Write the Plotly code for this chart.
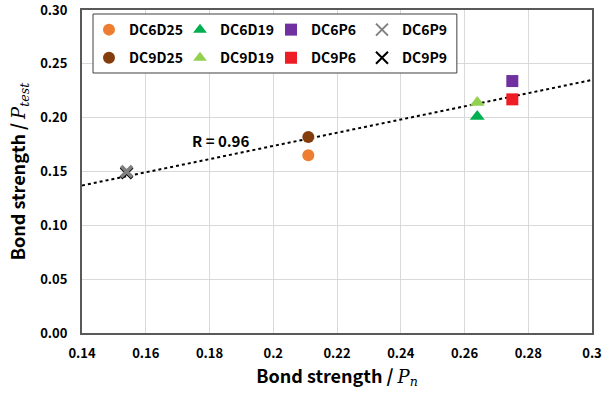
import plotly.graph_objects as go

names = ["DC6D25", "DC6D19", "DC6P6", "DC6P9", "DC9D25", "DC9D19", "DC9P6", "DC9P9"]
x_vals = [0.211, 0.264, 0.275, 0.154, 0.211, 0.264, 0.275, 0.154]
y_vals = [0.165, 0.201, 0.234, 0.150, 0.182, 0.214, 0.217, 0.149]
symbols = ["circle", "triangle-up", "square", "x-thin", "circle", "triangle-up", "square", "x-thin"]
colors = ["#ED7D31", "#00B050", "#7030A0", "#808080", "#843C0C", "#92D050", "#EE1C25", "#000000"]
sizes = [12, 13, 12, 11, 12, 13, 12, 11]
legend_row = ["legend", "legend", "legend", "legend", "legend2", "legend2", "legend2", "legend2"]

trend_x = [0.14, 0.30]
trend_y = [0.137, 0.235]

x_ticks = [0.14, 0.16, 0.18, 0.2, 0.22, 0.24, 0.26, 0.28, 0.3]
x_ticklabels = ["0.14", "0.16", "0.18", "0.2", "0.22", "0.24", "0.26", "0.28", "0.3"]
y_ticks = [0.0, 0.05, 0.10, 0.15, 0.20, 0.25, 0.30]
y_ticklabels = ["0.00", "0.05", "0.10", "0.15", "0.20", "0.25", "0.30"]

FONT = "Noto Sans CJK KR, Noto Sans, sans-serif"

fig = go.Figure()
fig.add_trace(go.Scatter(x=trend_x, y=trend_y, mode="lines",
                         line=dict(color="#000000", width=2, dash="dot"),
                         showlegend=False, hoverinfo="skip"))

# draw black X first so grey X sits on top
order = [7, 0, 1, 2, 3, 4, 5, 6]
for i in order:
    if symbols[i].startswith("x"):
        marker = dict(symbol=symbols[i], size=sizes[i], color=colors[i],
                      line=dict(width=3.8, color=colors[i]))
    else:
        marker = dict(symbol=symbols[i], size=sizes[i], color=colors[i], line=dict(width=0))
    fig.add_trace(go.Scatter(
        x=[x_vals[i]], y=[y_vals[i]], mode="markers", name="<b>%s</b>" % names[i],
        legend=legend_row[i], legendrank=i + 1, marker=marker))

fig.add_annotation(x=0.1835, y=0.1785, text="<b>R = 0.96</b>", showarrow=False,
                   font=dict(size=15, color="#000000", family=FONT))

# legend frame
fig.add_shape(type="rect", xref="paper", yref="paper",
              x0=0.0216, x1=0.735, y0=0.805, y1=0.9876,
              line=dict(color="#404040", width=1), fillcolor="#ffffff", layer="above")

axis_common = dict(showgrid=True, gridcolor="#d9d9d9", gridwidth=1,
                   showline=True, linecolor="#595959", linewidth=2, mirror=True,
                   zeroline=False, ticks="", automargin=False, ticklabeloverflow="allow",
                   tickfont=dict(size=13, color="#000000", family=FONT))

fig.update_xaxes(range=[0.14, 0.30], tickvals=x_ticks, ticktext=["<b>%s</b>" % t for t in x_ticklabels],
                 title=dict(text="<b>Bond strength / </b><span style='font-family:DejaVu Serif'><i>P<sub>n</sub></i></span>",
                            font=dict(size=18, color="#000000", family=FONT), standoff=8),
                 ticklabelstandoff=7, **axis_common)
fig.update_yaxes(range=[0, 0.30], tickvals=y_ticks, ticktext=["<b>%s</b>" % t for t in y_ticklabels],
                 title=dict(text="<b>Bond strength / </b><span style='font-family:DejaVu Serif'><i>P<sub>test</sub></i></span>",
                            font=dict(size=18, color="#000000", family=FONT), standoff=10),
                 ticklabelstandoff=10, **axis_common)

leg_common = dict(orientation="h", xanchor="left", yanchor="middle",
                  bgcolor="rgba(0,0,0,0)", borderwidth=0,
                  font=dict(size=14, color="#000000", family=FONT),
                  entrywidth=46, entrywidthmode="pixels", traceorder="normal",
                  itemsizing="constant")

fig.update_layout(
    width=615, height=393,
    margin=dict(l=82, r=23, t=10, b=60),
    plot_bgcolor="#ffffff", paper_bgcolor="#ffffff",
    showlegend=True,
    legend=dict(x=0.0137, y=0.938, **leg_common),
    legend2=dict(x=0.0137, y=0.851, **leg_common),
)

fig.write_html("out.html")
